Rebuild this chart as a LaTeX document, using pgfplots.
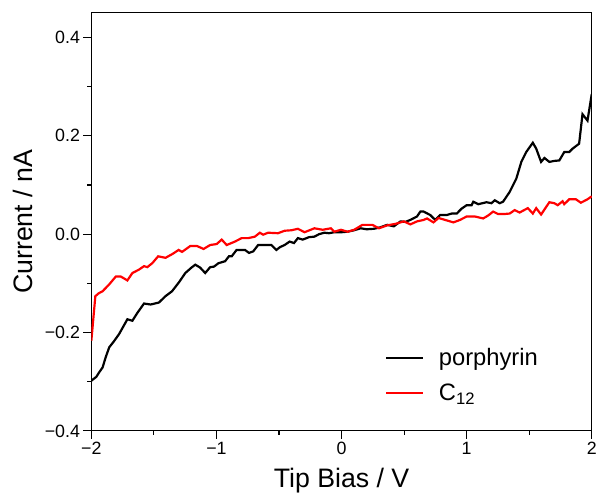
\documentclass[border=0pt]{standalone}
\usepackage{pgfplots}
\pgfplotsset{compat=1.18}
\usetikzlibrary{calc}
\usepackage{fontspec}
\setmainfont{Liberation Sans}
\definecolor{myred}{RGB}{255,0,0}
\begin{document}
\begin{tikzpicture}
\begin{axis}[
  name=ax,
  scale only axis,
  width=504bp, height=421bp,
  xmin=-2, xmax=2, ymin=-0.4, ymax=0.45,
  axis line style={line width=1.2bp},
  xtick={-2,-1,0,1,2},
  xticklabels={−2,−1,0,1,2},
  ytick={-0.4,-0.2,0,0.2,0.4},
  yticklabels={−0.4,−0.2,0.0,0.2,0.4},
  minor x tick num=1, minor y tick num=1,
  tick align=outside,
  xtick pos=bottom, ytick pos=left,
  major tick length=8bp, minor tick length=4bp,
  tick style={line width=1.1bp, black},
  tick label style={font=\fontsize{18}{21}\selectfont},
  xlabel={Tip Bias / V},
  ylabel={Current / nA},
  label style={font=\fontsize{27}{32}\selectfont},
  xlabel style={at={(rel axis cs:0.5,-0.1354)}, anchor=base},
  ylabel style={at={(rel axis cs:-0.117,0.5)}, anchor=base},
  legend style={at={(rel axis cs:0.587,0.203)}, anchor=north west, draw=none, fill=none,
    font=\fontsize{24}{28}\selectfont, row sep=13bp, column sep=13bp, inner sep=0pt},
  legend cell align=left,
  legend image code/.code={\draw[#1, line width=2bp] (0bp,0bp) -- (37bp,0bp);},
]
\addplot[black, line width=2.2bp] coordinates {
(-2.000,-0.298) (-1.960,-0.290) (-1.935,-0.280) (-1.910,-0.271) (-1.885,-0.250) (-1.857,-0.230)
(-1.820,-0.218) (-1.778,-0.203) (-1.745,-0.188) (-1.712,-0.173) (-1.672,-0.176) (-1.632,-0.160)
(-1.579,-0.141) (-1.526,-0.143) (-1.460,-0.139) (-1.407,-0.126) (-1.355,-0.116) (-1.300,-0.098)
(-1.249,-0.079) (-1.200,-0.068) (-1.169,-0.062) (-1.130,-0.068) (-1.090,-0.079) (-1.050,-0.067)
(-1.020,-0.066) (-0.984,-0.059) (-0.931,-0.055) (-0.900,-0.045) (-0.878,-0.045) (-0.839,-0.032)
(-0.800,-0.032) (-0.772,-0.032) (-0.740,-0.038) (-0.706,-0.035) (-0.667,-0.022) (-0.610,-0.022)
(-0.561,-0.022) (-0.521,-0.032) (-0.490,-0.026) (-0.455,-0.022) (-0.415,-0.015) (-0.380,-0.018)
(-0.349,-0.008) (-0.310,-0.011) (-0.260,-0.006) (-0.217,-0.005) (-0.180,0.000) (-0.138,0.003)
(-0.100,0.002) (-0.058,0.004) (0.000,0.004) (0.048,0.005) (0.100,0.008) (0.153,0.012)
(0.200,0.010) (0.259,0.011) (0.310,0.014) (0.365,0.019) (0.418,0.016) (0.471,0.026)
(0.510,0.025) (0.550,0.029) (0.603,0.036) (0.630,0.046) (0.656,0.046) (0.709,0.039)
(0.749,0.029) (0.788,0.039) (0.841,0.039) (0.881,0.042) (0.921,0.042) (0.960,0.052)
(1.000,0.059) (1.040,0.059) (1.053,0.066) (1.093,0.061) (1.159,0.065) (1.198,0.063)
(1.225,0.069) (1.264,0.063) (1.291,0.066) (1.344,0.086) (1.397,0.113) (1.437,0.147)
(1.476,0.167) (1.529,0.186) (1.556,0.174) (1.595,0.147) (1.622,0.155) (1.661,0.147)
(1.700,0.149) (1.741,0.150) (1.780,0.167) (1.820,0.167) (1.847,0.174) (1.899,0.184)
(1.926,0.244) (1.966,0.231) (2.000,0.285)
};
\addlegendentry{porphyrin}
\addplot[myred, line width=2.2bp] coordinates {
(-2.000,-0.217) (-1.968,-0.126) (-1.940,-0.120) (-1.910,-0.116) (-1.857,-0.102) (-1.804,-0.086)
(-1.765,-0.086) (-1.712,-0.094) (-1.672,-0.079) (-1.619,-0.072) (-1.579,-0.065) (-1.553,-0.067)
(-1.513,-0.059) (-1.466,-0.045) (-1.407,-0.048) (-1.350,-0.040) (-1.302,-0.032) (-1.275,-0.036)
(-1.209,-0.024) (-1.156,-0.024) (-1.103,-0.030) (-1.050,-0.022) (-0.998,-0.020) (-0.958,-0.011)
(-0.918,-0.022) (-0.852,-0.015) (-0.799,-0.008) (-0.746,-0.008) (-0.693,-0.005) (-0.653,0.003)
(-0.627,-0.001) (-0.587,0.003) (-0.508,0.002) (-0.455,0.007) (-0.400,0.008) (-0.349,0.011)
(-0.296,0.004) (-0.217,0.012) (-0.151,0.009) (-0.085,0.012) (-0.058,0.005) (-0.005,0.009)
(0.048,0.005) (0.101,0.009) (0.167,0.019) (0.246,0.019) (0.299,0.012) (0.365,0.018)
(0.431,0.021) (0.498,0.026) (0.550,0.020) (0.603,0.026) (0.656,0.029) (0.683,0.032)
(0.735,0.024) (0.775,0.033) (0.828,0.029) (0.894,0.024) (0.947,0.029) (1.000,0.036)
(1.066,0.036) (1.132,0.032) (1.172,0.038) (1.212,0.046) (1.251,0.041) (1.300,0.041)
(1.344,0.042) (1.384,0.049) (1.423,0.044) (1.489,0.053) (1.529,0.042) (1.556,0.053)
(1.595,0.040) (1.661,0.065) (1.701,0.063) (1.728,0.059) (1.767,0.067) (1.780,0.061)
(1.820,0.071) (1.873,0.071) (1.913,0.064) (1.966,0.071) (2.000,0.077)
};
\addlegendentry{C\textsubscript{12}}
\end{axis}
\path ($(ax.south west)+(-92bp,-63bp)$) rectangle ($(ax.north east)+(4bp,13bp)$);
\end{tikzpicture}
\end{document}
